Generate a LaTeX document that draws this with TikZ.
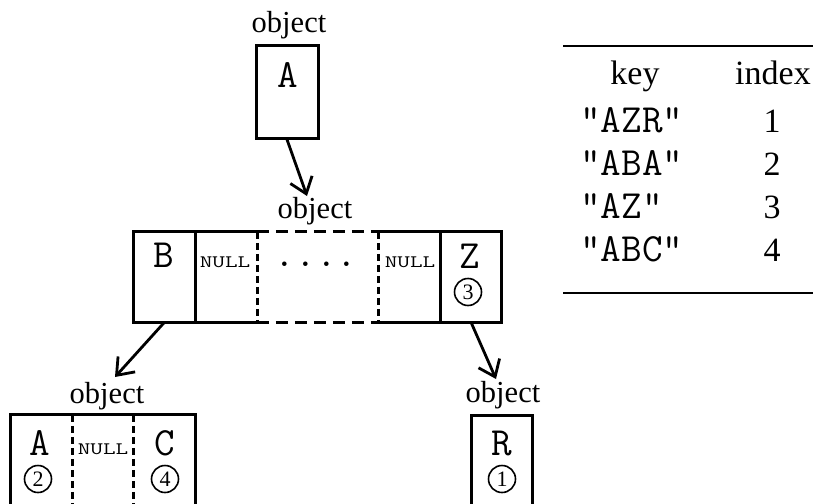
\documentclass[tikz,border=0pt]{standalone}
\usepackage{fontspec}
\usepackage{graphicx}
\setmainfont{Liberation Serif}
\usetikzlibrary{arrows.meta}
\newcommand{\nullbox}{\scalebox{1.4}[1]{NULL}}
\begin{document}
\begin{tikzpicture}[x=1pt,y=-1pt,
  cell/.style={rectangle, inner sep=0pt, minimum height=92pt},
  sline/.style={line width=3pt, line cap=rect},
  hdash/.style={line width=3pt, dash pattern=on 12pt off 7pt},
  vdash/.style={line width=3pt, dash pattern=on 7pt off 4pt},
  lbl/.style={anchor=base, font=\fontsize{30.5}{30.5}\selectfont},
  tbl/.style={anchor=base, font=\fontsize{34}{34}\selectfont},
  mono/.style={anchor=base, font=\ttfamily\fontsize{40}{40}\selectfont},
  monol/.style={anchor=base west, inner sep=0pt, font=\ttfamily\fontsize{40}{40}\selectfont},
  nul/.style={anchor=base, font=\ttfamily\fontsize{17.5}{17.5}\selectfont},
  circ/.style={circle, draw, line width=1.6pt, minimum size=27pt, inner sep=0pt, font=\fontsize{22}{22}\selectfont},
  arr/.style={-{Straight Barb[length=15pt,width=23pt]}, line width=2.8pt},
]
\useasboundingbox (0,0) rectangle (813,503);
\clip (0,0) rectangle (813,503);

% ---------- top object ----------
\node[lbl] (objT) at (289,33) {object};
\node[cell, draw, line width=3pt, minimum width=62pt] (topA) at (287,92) {};
\node[mono] (tA) at (288,87) {A};

% ---------- middle object ----------
\node[lbl] (objM) at (315,218) {object};
\node[cell, minimum height=90pt, minimum width=61pt] (cB)  at (164.5,277) {};
\node[cell, minimum height=90pt, minimum width=62pt] (cN1) at (226,277) {};
\node[cell, minimum height=90pt, minimum width=122pt] (cD) at (318,277) {};
\node[cell, minimum height=90pt, minimum width=62pt] (cN2) at (410,277) {};
\node[cell, minimum height=90pt, minimum width=60pt] (cZ)  at (471,277) {};

\draw[sline] (cN1.north east) -- (cB.north west) -- (cB.south west) -- (cN1.south east);
\draw[sline] (cB.north east) -- (cB.south east);
\draw[vdash] (cN1.north east) -- (cN1.south east);
\draw[hdash] (cD.north west) -- (cD.north east);
\draw[hdash] (cD.south west) -- (cD.south east);
\draw[vdash] (cN2.north west) -- (cN2.south west);
\draw[sline] (cN2.north west) -- (cZ.north east) -- (cZ.south east) -- (cN2.south west);
\draw[sline] (cZ.north west) -- (cZ.south west);

\node[mono] (tB) at (164,267) {B};
\node[nul] (tN1) at (225,267) {\nullbox};
\node[mono] (tD) at (316,266) {....};
\node[nul] (tN2) at (410,267) {\nullbox};
\node[mono] (tZ) at (470,268) {Z};
\node[circ] (c3) at (468,292) {3};

% ---------- bottom-left object ----------
\node[lbl] (objL) at (107,403) {object};
\node[cell, minimum width=61pt] (bA) at (41.5,461) {};
\node[cell, minimum width=62pt] (bN) at (103,461) {};
\node[cell, minimum width=61pt] (bC) at (164.5,461) {};
\draw[sline] (bA.south west) -- (bA.north west) -- (bC.north east) -- (bC.south east);
\draw[vdash] (bA.north east) -- (bA.south east);
\draw[vdash] (bC.north west) -- (bC.south west);
\node[mono] (tA2) at (40,455) {A};
\node[nul] (tNb) at (103,454) {\nullbox};
\node[mono] (tC) at (165,455) {C};
\node[circ] (c2) at (38,479) {2};
\node[circ] (c4) at (165,479) {4};

% ---------- bottom-right object ----------
\node[lbl] (objR) at (503,402) {object};
\node[cell, draw, line width=3pt, minimum width=61pt] (bR) at (501.5,461) {};
\node[mono] (tR) at (502,455) {R};
\node[circ] (c1) at (502,479) {1};

% ---------- arrows ----------
\coordinate (eT) at (307,196);
\coordinate (eL) at (115,377);
\coordinate (eR) at (496,379);
\draw[arr] (topA.south) -- (eT);
\draw[arr] (cB.south) -- (eL);
\draw[arr] (cZ.south) -- (eR);

% ---------- table ----------
\coordinate (rTl) at (563,46);
\coordinate (rTr) at (813,46);
\coordinate (rBl) at (563,293);
\coordinate (rBr) at (813,293);
\draw[line width=2.2pt] (rTl) -- (rTr);
\draw[line width=2.2pt] (rBl) -- (rBr);
\node[tbl] (hk) at (635,84) {key};
\node[tbl] (hi) at (773,84) {index};
\node[monol] (k1) at (580,132) {"AZR"};
\node[tbl]  (i1) at (772,132) {1};
\node[monol] (k2) at (580,175) {"ABA"};
\node[tbl]  (i2) at (772,175) {2};
\node[monol] (k3) at (580,218) {"AZ"};
\node[tbl]  (i3) at (772,218) {3};
\node[monol] (k4) at (580,261) {"ABC"};
\node[tbl]  (i4) at (772,261) {4};
\end{tikzpicture}
\end{document}
